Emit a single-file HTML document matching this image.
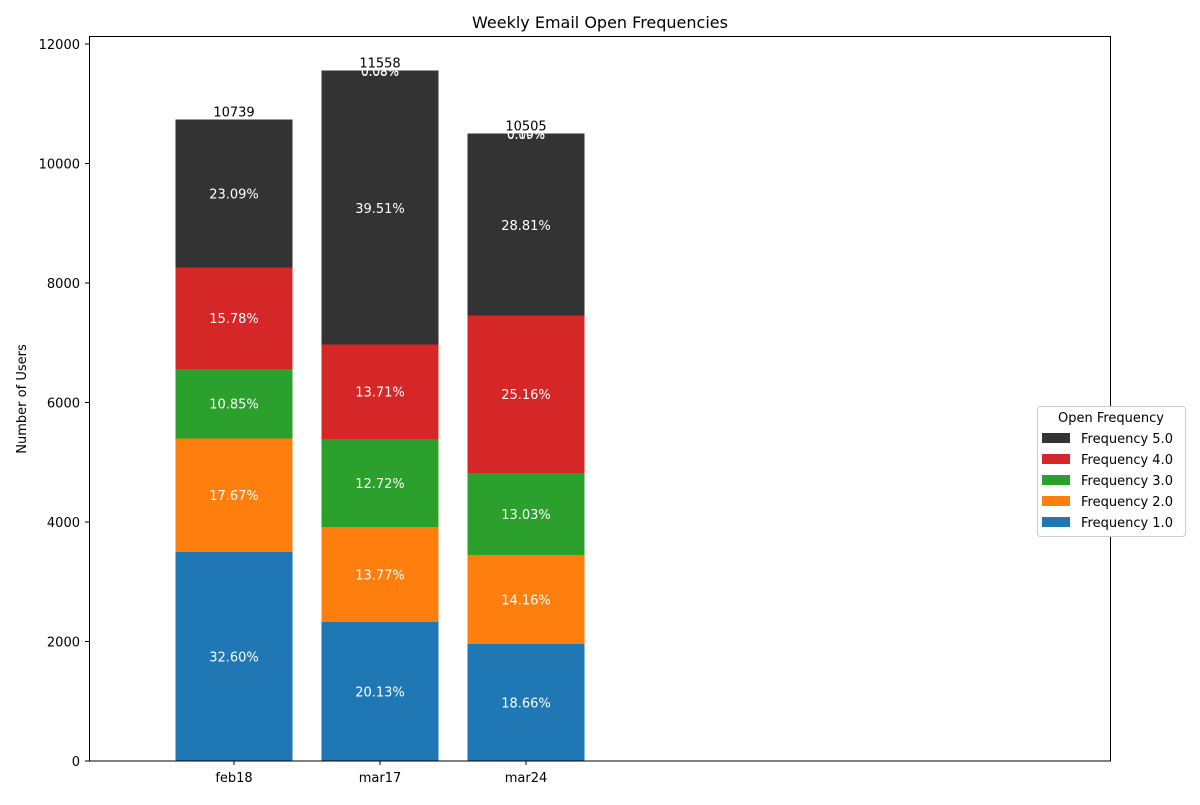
<!DOCTYPE html>
<html><head><meta charset="utf-8"><style>
body{margin:0;background:#fff}
svg text{font-family:"DejaVu Sans","Liberation Sans",sans-serif}
</style></head><body>
<svg id="chart" width="1200" height="800" xmlns="http://www.w3.org/2000/svg">
<rect width="1200" height="800" fill="#fff"/>
<text x="600" y="28" text-anchor="middle" font-size="16">Weekly Email Open Frequencies</text>
<text transform="translate(26,399) rotate(-90)" text-anchor="middle" font-size="13">Number of Users</text>
<g id="plot" shape-rendering="crispEdges"></g>
<rect x="89.5" y="36.5" width="1021" height="724.5" fill="none" stroke="#000" stroke-width="1"/>
<g id="legend"></g>
</svg>
<script>
const categories=["feb18","mar17","mar24"];
const totals=[10739,11558,10505];
const freq1=[3501,2327,1960];
const freq2=[1898,1592,1488];
const freq3=[1165,1470,1369];
const freq4=[1695,1585,2643];
const freq5=[2480,4567,3027];
const extraA=[0,9,9];
const extraB=[0,9,10];
const yTicks=[0,2000,4000,6000,8000,10000,12000];
const seriesNames=["Frequency 1.0","Frequency 2.0","Frequency 3.0","Frequency 4.0","Frequency 5.0"];
const colors=["#1f77b4","#ff7f0e","#2ca02c","#d62728","#333333","#333333","#333333"];
const all=[freq1,freq2,freq3,freq4,freq5,extraA,extraB];
const NS="http://www.w3.org/2000/svg";
const y=v=>761-v*(717/12000);
const x=i=>234+i*146;
const bw=117;
const plot=document.getElementById('plot');
function mk(tag,attrs,parent){const e=document.createElementNS(NS,tag);for(const k in attrs)e.setAttribute(k,attrs[k]);parent.appendChild(e);return e;}
yTicks.forEach(t=>{
  const l=mk('line',{x1:85,x2:89,y1:y(t),y2:y(t),stroke:'#000'},plot);
  
  
  const tx=mk('text',{x:80,y:y(t)+5,'text-anchor':'end','font-size':13},plot);
  tx.textContent=t;
  
  
});
categories.forEach((c,i)=>{
  let base=0;
  all.forEach((arr,si)=>{
    const v=arr[i];
    if(v<=0){return;}
    const r=mk('rect',{x:x(i)-bw/2,y:y(base+v),width:bw,height:y(base)-y(base+v),fill:colors[si]},plot);
    
    
    const lt=mk('text',{x:x(i),y:y(base+v/2)+5,'text-anchor':'middle','font-size':si>4?12:13,fill:'#fff'},plot);
    lt.textContent=(v/totals[i]*100).toFixed(2)+'%';
    
    
    base+=v;
  });
  const tl=mk('text',{x:x(i),y:y(totals[i])-3,'text-anchor':'middle','font-size':13},plot);
  tl.textContent=totals[i];
  
  
  const tk=mk('line',{x1:x(i),x2:x(i),y1:761,y2:765,stroke:'#000'},plot);
  
  
  const xl=mk('text',{x:x(i),y:782,'text-anchor':'middle','font-size':13},plot);
  xl.textContent=c;
  
  
});
const lg=document.getElementById('legend');
const box=mk('rect',{x:1037.5,y:406.5,width:148,height:130,rx:3,fill:'#fff',stroke:'#ccc'},lg);


const lt=mk('text',{x:1111,y:422,'text-anchor':'middle','font-size':13},lg);
lt.textContent='Open Frequency';


for(let k=4;k>=0;k--){
  const row=4-k;
  const yy=438+row*21;
  const p=mk('rect',{x:1042,y:yy-5,width:28,height:10,fill:colors[k]},lg);
  
  
  const t=mk('text',{x:1081,y:yy+5,'font-size':13},lg);
  t.textContent=seriesNames[k];
  
  
}
</script>
</body></html>
